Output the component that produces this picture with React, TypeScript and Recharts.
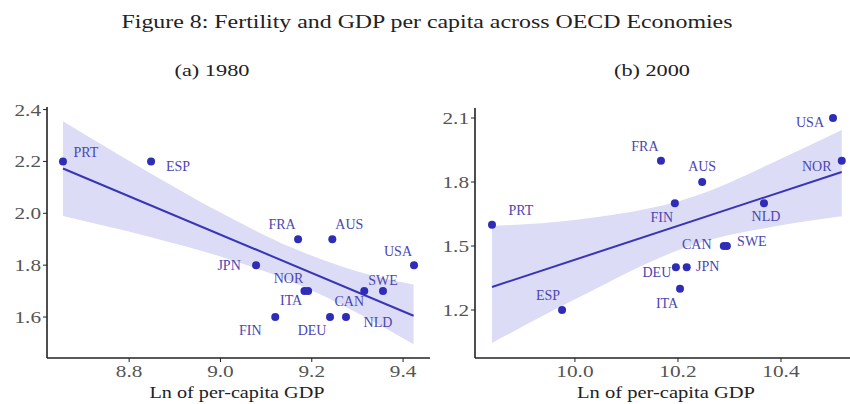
import React from 'react';
import { ComposedChart, XAxis, YAxis, Area, Line, Scatter } from 'recharts';

// ---------- data: panel (a) 1980 ----------
const countries1980 = ['PRT', 'ESP', 'FRA', 'AUS', 'JPN', 'USA', 'NOR', 'ITA', 'SWE', 'CAN', 'FIN', 'DEU', 'NLD'];
const gdp1980 = [8.655, 8.848, 9.17, 9.245, 9.078, 9.424, 9.184, 9.192, 9.356, 9.315, 9.12, 9.24, 9.275];
const fert1980 = [2.2, 2.2, 1.9, 1.9, 1.8, 1.8, 1.7, 1.7, 1.7, 1.7, 1.6, 1.6, 1.6];
const fitX1980 = [8.655, 9.423];
const fitY1980 = [2.173, 1.605];
const bandX1980 = [8.655, 8.85, 9.0, 9.16, 9.3, 9.423];
const bandLow1980 = [1.99, 1.907, 1.833, 1.733, 1.616, 1.495];
const bandHigh1980 = [2.355, 2.151, 2.003, 1.865, 1.776, 1.725];
const xTicks1980 = [8.8, 9.0, 9.2, 9.4];
const yTicks1980 = [1.6, 1.8, 2.0, 2.2, 2.4];

// ---------- data: panel (b) 2000 ----------
const countries2000 = ['PRT', 'ESP', 'FRA', 'AUS', 'FIN', 'NLD', 'USA', 'NOR', 'CAN', 'SWE', 'DEU', 'JPN', 'ITA'];
const gdp2000 = [9.839, 9.975, 10.167, 10.247, 10.194, 10.367, 10.501, 10.518, 10.289, 10.295, 10.196, 10.217, 10.204];
const fert2000 = [1.6, 1.2, 1.9, 1.8, 1.7, 1.7, 2.1, 1.9, 1.5, 1.5, 1.4, 1.4, 1.3];
const fitX2000 = [9.839, 10.518];
const fitY2000 = [1.308, 1.847];
const bandX2000 = [9.839, 10.0, 10.232, 10.4, 10.518];
const bandLow2000 = [1.045, 1.25, 1.507, 1.597, 1.64];
const bandHigh2000 = [1.594, 1.622, 1.733, 1.909, 2.044];
const xTicks2000 = [10.0, 10.2, 10.4];
const yTicks2000 = [1.2, 1.5, 1.8, 2.1];

// ---------- text ----------
const TITLE = 'Figure 8: Fertility and GDP per capita across OECD Economies';
const SUB_A = '(a) 1980';
const SUB_B = '(b) 2000';
const X_LABEL = 'Ln of per-capita GDP';

// ---------- styling (label offsets relative to the dot) ----------
const labelOffsets1980: Record<string, [number, number]> = {
  PRT: [23, -9], ESP: [27, 5], FRA: [-16, -15], AUS: [17, -15], USA: [-16, -14],
  JPN: [-27, 0], NOR: [-16, -13], ITA: [-17, 9], SWE: [0, -11], CAN: [-15, 10],
  FIN: [-25, 13], DEU: [-18, 13], NLD: [32, 5],
};
const labelOffsets2000: Record<string, [number, number]> = {
  PRT: [29, -15], ESP: [-14, -15], FRA: [-16, -15], AUS: [0, -16], FIN: [-13, 14],
  NLD: [2, 13], USA: [-23, 4], NOR: [-25, 5], CAN: [-27, -2], SWE: [25, -5],
  DEU: [-19, 5], JPN: [21, -1], ITA: [-13, 14],
};

const FONT = "'Liberation Serif', 'Times New Roman', serif";
const DOT = '#2f2db8';
const LABEL = '#4b46b2';
const LINE = '#3a34b6';
const BAND = '#dcdcf6';
const AXIS = '#222';
const TICK_TXT = '#555';
const TICK_FS = 17;
const STRETCH = 1.25;

const textWidth = (s: string, fs: number) =>
  s.split('').reduce((a, ch) => a + (ch === '.' ? 0.25 : 0.5), 0) * fs * STRETCH;

const XTick = (props: any) => {
  const { x, y, payload } = props;
  const s = Number(payload.value).toFixed(1);
  return (
    <text x={x} y={y} dy="0.71em" textAnchor="middle" fontFamily={FONT} fontSize={TICK_FS} fill={TICK_TXT}
      textLength={textWidth(s, TICK_FS)} lengthAdjust="spacingAndGlyphs">{s}</text>
  );
};
const YTick = (props: any) => {
  const { x, y, payload } = props;
  const s = Number(payload.value).toFixed(1);
  return (
    <text x={x} y={y} dy="0.35em" textAnchor="end" fontFamily={FONT} fontSize={TICK_FS} fill={TICK_TXT}
      textLength={textWidth(s, TICK_FS)} lengthAdjust="spacingAndGlyphs">{s}</text>
  );
};

type PanelProps = {
  left: number; width: number; margin: any;
  xDomain: [number, number]; yDomain: [number, number];
  xTicks: number[]; yTicks: number[];
  countries: string[]; gdp: number[]; fert: number[];
  fitX: number[]; fitY: number[];
  bandX: number[]; bandLow: number[]; bandHigh: number[];
  offsets: Record<string, [number, number]>;
};

function Panel(p: PanelProps) {
  const points = p.countries.map((name, i) => ({ name, x: p.gdp[i], y: p.fert[i] }));
  const fit = p.fitX.map((x, i) => ({ x, y: p.fitY[i] }));
  const band = p.bandX.map((x, i) => ({ x, band: [p.bandLow[i], p.bandHigh[i]] }));
  const shape = (sp: any) => {
    const { cx, cy, payload } = sp;
    const off = p.offsets[payload.name] || [0, -12];
    return (
      <g>
        <circle cx={cx} cy={cy} r={4} fill={DOT} />
        <text x={cx + off[0]} y={cy + off[1]} dy="0.35em" textAnchor="middle" fontFamily={FONT}
          fontSize={14} fill={LABEL}>{payload.name}</text>
      </g>
    );
  };
  return (
    <div style={{ position: 'absolute', left: p.left, top: 0 }}>
      <ComposedChart width={p.width} height={404} margin={p.margin}>
        <XAxis type="number" dataKey="x" domain={p.xDomain} ticks={p.xTicks} allowDataOverflow
          axisLine={{ stroke: AXIS, strokeWidth: 1.6 }} tickLine={{ stroke: AXIS }} tickSize={4}
          tickMargin={3} height={40} tick={<XTick />} />
        <YAxis type="number" domain={p.yDomain} ticks={p.yTicks} allowDataOverflow
          axisLine={{ stroke: AXIS, strokeWidth: 1.6 }} tickLine={{ stroke: AXIS }} tickSize={4}
          tickMargin={2} width={40} tick={<YTick />} />
        <Area data={band} dataKey="band" type="monotone" stroke="none" fill={BAND} fillOpacity={1}
          isAnimationActive={false} />
        <Line data={fit} dataKey="y" type="linear" stroke={LINE} strokeWidth={2} dot={false}
          isAnimationActive={false} />
        <Scatter data={points} dataKey="y" shape={shape} isAnimationActive={false} />
      </ComposedChart>
    </div>
  );
}

export default function App() {
  return (
    <div style={{ position: 'absolute', left: 0, top: 0, width: 850, height: 404, overflow: 'hidden', background: '#fff' }}>
      <Panel left={0} width={440} margin={{ top: 107, right: 10, bottom: 6, left: 7 }}
        xDomain={[8.62, 9.459]} yDomain={[1.442, 2.41]} xTicks={xTicks1980} yTicks={yTicks1980}
        countries={countries1980} gdp={gdp1980} fert={fert1980} fitX={fitX1980} fitY={fitY1980}
        bandX={bandX1980} bandLow={bandLow1980} bandHigh={bandHigh1980} offsets={labelOffsets1980} />
      <Panel left={425} width={425} margin={{ top: 108, right: 0, bottom: 6, left: 10 }}
        xDomain={[9.806, 10.534]} yDomain={[0.975, 2.147]} xTicks={xTicks2000} yTicks={yTicks2000}
        countries={countries2000} gdp={gdp2000} fert={fert2000} fitX={fitX2000} fitY={fitY2000}
        bandX={bandX2000} bandLow={bandLow2000} bandHigh={bandHigh2000} offsets={labelOffsets2000} />
      <svg width={850} height={404} style={{ position: 'absolute', left: 0, top: 0, pointerEvents: 'none' }}>
        <text x={427} y={28} textAnchor="middle" fontFamily={FONT} fontSize={19} fill="#222"
          textLength={611} lengthAdjust="spacingAndGlyphs">{TITLE}</text>
        <text x={212} y={76} textAnchor="middle" fontFamily={FONT} fontSize={17} fill="#222"
          textLength={75} lengthAdjust="spacingAndGlyphs">{SUB_A}</text>
        <text x={652} y={76} textAnchor="middle" fontFamily={FONT} fontSize={17} fill="#222"
          textLength={76} lengthAdjust="spacingAndGlyphs">{SUB_B}</text>
        <text x={237} y={398} textAnchor="middle" fontFamily={FONT} fontSize={17} fill="#222"
          textLength={175} lengthAdjust="spacingAndGlyphs">{X_LABEL}</text>
        <text x={666} y={398} textAnchor="middle" fontFamily={FONT} fontSize={17} fill="#222"
          textLength={178} lengthAdjust="spacingAndGlyphs">{X_LABEL}</text>
      </svg>
    </div>
  );
}
